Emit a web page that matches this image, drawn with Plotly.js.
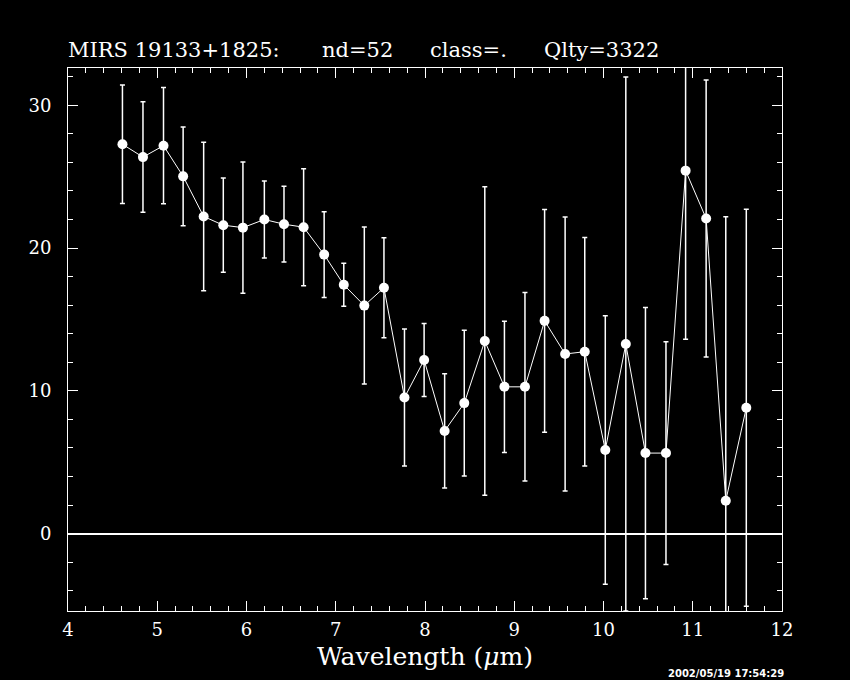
<!DOCTYPE html>
<html>
<head>
<meta charset="utf-8">
<script src="https://cdn.plot.ly/plotly-3.0.1.min.js"></script>
<style>html,body{margin:0;padding:0;background:#000;}#chart{width:850px;height:680px;}</style>
</head>
<body>
<div id="chart"></div>
<script>
const wavelength = [4.61, 4.84, 5.07, 5.29, 5.52, 5.74, 5.96, 6.20, 6.42, 6.64, 6.87, 7.09, 7.32, 7.54, 7.77, 7.99, 8.22, 8.44, 8.67, 8.89, 9.12, 9.34, 9.57, 9.79, 10.02, 10.25, 10.47, 10.70, 10.92, 11.15, 11.37, 11.60];
const flux = [27.27, 26.37, 27.17, 25.02, 22.21, 21.60, 21.43, 22.00, 21.67, 21.46, 19.54, 17.43, 15.97, 17.22, 9.53, 12.16, 7.19, 9.14, 13.49, 10.28, 10.28, 14.90, 12.58, 12.74, 5.86, 13.28, 5.64, 5.64, 25.42, 22.07, 2.30, 8.82];
const fluxErr = [4.15, 3.87, 4.07, 3.46, 5.20, 3.30, 4.60, 2.70, 2.65, 4.10, 3.00, 1.50, 5.50, 3.50, 4.80, 2.55, 4.00, 5.10, 10.80, 4.60, 6.60, 7.80, 9.60, 8.00, 9.40, 18.70, 10.20, 7.80, 11.80, 9.70, 19.90, 13.90];
const xTicks = [4, 5, 6, 7, 8, 9, 10, 11, 12];
const yTicks = [0, 10, 20, 30];
const titleParts = ["MIRS 19133+1825:", "nd=52", "class=.", "Qlty=3322"];
const xTitle = "Wavelength (<i>μ</i>m)";
const stamp = "2002/05/19 17:54:29";

const L = 68, R = 782, T = 68, B = 611;
const W = R - L, H = B - T;
const px = p => (p - L) / W;
const py = p => (B - p) / H;
const titleLeft = [66, 320, 428, 542];

const serif = "DejaVu Serif, Liberation Serif, serif";

const trace = {
  x: wavelength, y: flux, type: 'scatter', mode: 'lines+markers',
  line: {color: '#ffffff', width: 1},
  marker: {color: '#ffffff', size: 10, symbol: 'circle'},
  error_y: {type: 'data', array: fluxErr, visible: true, color: '#ffffff', thickness: 1.5, width: 2.5}
};

const annotations = titleParts.map((t, i) => ({
  text: t, xref: 'paper', yref: 'paper', x: px(titleLeft[i]), y: py(50),
  xanchor: 'left', yanchor: 'middle', showarrow: false,
  font: {family: serif, size: 21, color: '#ffffff'}
}));
annotations.push({
  text: stamp, xref: 'paper', yref: 'paper', x: px(786), y: py(681),
  xanchor: 'right', yanchor: 'bottom', showarrow: false,
  font: {family: 'DejaVu Sans, sans-serif', size: 10, color: '#ffffff', weight: 'bold'}
});

const axisCommon = {
  showgrid: false, showline: true, linecolor: '#ffffff', linewidth: 1,
  mirror: 'allticks', ticks: 'inside', tickcolor: '#ffffff', tickwidth: 1,
  tickfont: {family: serif, size: 18, color: '#ffffff'}
};

const layout = {
  width: 850, height: 680,
  paper_bgcolor: '#000000', plot_bgcolor: '#000000',
  margin: {l: L, r: 850 - R, t: T, b: 680 - B, pad: 0},
  showlegend: false,
  xaxis: Object.assign({}, axisCommon, {
    range: [4, 12], tickmode: 'array', tickvals: xTicks, ticktext: xTicks.map(String),
    ticklen: 10, zeroline: false, ticklabelstandoff: 2,
    minor: {dtick: 0.2, tick0: 4, ticks: 'inside', ticklen: 5, tickcolor: '#ffffff', tickwidth: 1},
    title: {text: xTitle, font: {family: serif, size: 25, color: '#ffffff'}, standoff: 8}
  }),
  yaxis: Object.assign({}, axisCommon, {
    range: [-5.42, 32.61], tickmode: 'array', tickvals: yTicks, ticktext: yTicks.map(String),
    ticklen: 10, ticklabelstandoff: 12,
    zeroline: true, zerolinecolor: '#ffffff', zerolinewidth: 2,
    minor: {dtick: 2, tick0: 0, ticks: 'inside', ticklen: 5, tickcolor: '#ffffff', tickwidth: 1}
  }),
  annotations: annotations
};

Plotly.newPlot('chart', [trace], layout, {displayModeBar: false, staticPlot: true});
</script>
</body>
</html>
